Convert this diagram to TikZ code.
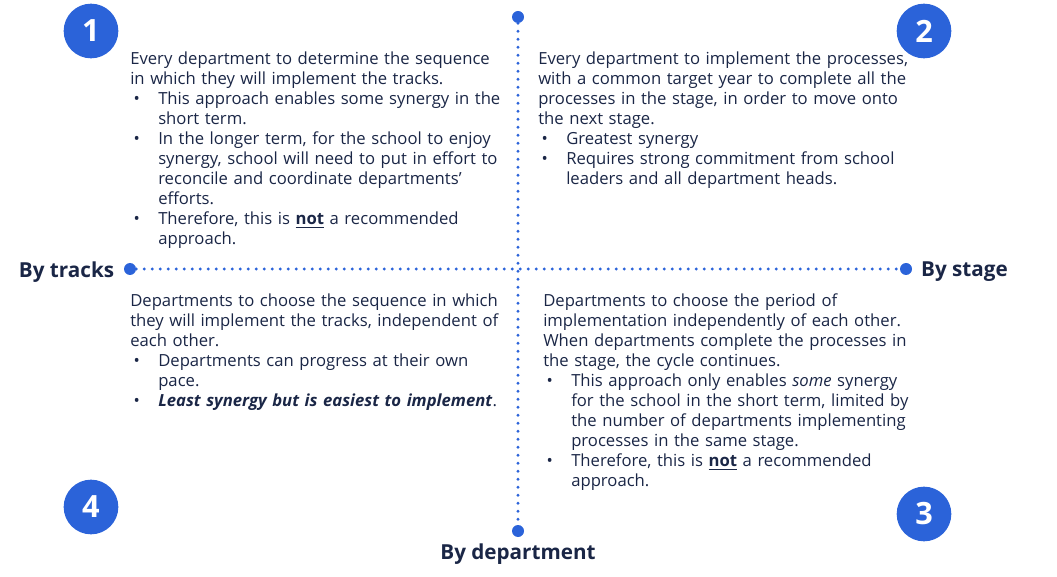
\documentclass[tikz,border=0pt]{standalone}
\usepackage{fontspec}
\setmainfont{Open Sans}
\usetikzlibrary{positioning}
\definecolor{axisblue}{RGB}{43,99,217}
\definecolor{navy}{RGB}{26,38,70}
\newcommand{\bul}{\makebox[21pt][l]{\hspace{2.5pt}\textbullet}}
\newcommand{\ind}{\hspace*{21pt}}
\tikzset{%
    enddot/.style={circle,fill=axisblue,inner sep=0pt,minimum size=9pt},
    axisline/.style={axisblue,line width=2.3pt,line cap=round,dash pattern=on 0pt off 6pt},
    numdot/.style={circle,fill=axisblue,text=white,inner sep=0pt,minimum size=41pt,
        font=\fontsize{23}{26}\selectfont\bfseries},
    axislabel/.style={text=navy,inner sep=0pt,font=\fontsize{15.5}{18}\selectfont\bfseries},
    quadtext/.style={text=navy,inner sep=0pt,anchor=base west,text width=340pt,align=left,
        font=\fontsize{12.5}{15}\selectfont}
}

\begin{document}
\begin{tikzpicture}[x=0.75pt,y=-0.75pt]
\useasboundingbox (0,0) rectangle (1057,577);

% axes
\node[enddot] (tdot) at (518,17) {};
\node[enddot] (bdot) at (518,531) {};
\node[enddot] (ldot) at (130,269) {};
\node[enddot] (rdot) at (906,269) {};
\draw[axisline] (tdot) -- (bdot);
\draw[axisline] (ldot) -- (rdot);

\node[axislabel,left=7pt of ldot,yshift=-2pt] (tracks) {By tracks};
\node[axislabel,right=6.5pt of rdot,yshift=-2pt] (stage) {By stage};
\node[axislabel,below=4.5pt of bdot] (dept) {By department};

% numbers
\node[numdot] (n1) at (91,31) {1};
\node[numdot] (n2) at (924,31) {2};
\node[numdot] (n3) at (924,514) {3};
\node[numdot] (n4) at (91,507) {4};

% quadrant texts
\node[quadtext] (q1) at (130,65) {Every department to determine the sequence\\
in which they will implement the tracks.\\
\bul This approach enables some synergy in the\\
\ind short term.\\
\bul In the longer term, for the school to enjoy\\
\ind synergy, school will need to put in effort to\\
\ind reconcile and coordinate departments’\\
\ind efforts.\\
\bul Therefore, this is \textbf{\underline{not}} a recommended\\
\ind approach.};

\node[quadtext] (q2) at (538,65) {Every department to implement the processes,\\
with a common target year to complete all the\\
processes in the stage, in order to move onto\\
the next stage.\\
\bul Greatest synergy\\
\bul Requires strong commitment from school\\
\ind leaders and all department heads.};

\node[quadtext] (q3) at (543,307) {Departments to choose the period of\\
implementation independently of each other.\\
When departments complete the processes in\\
the stage, the cycle continues.\\
\bul This approach only enables \textit{some} synergy\\
\ind for the school in the short term, limited by\\
\ind the number of departments implementing\\
\ind processes in the same stage.\\
\bul Therefore, this is \textbf{\underline{not}} a recommended\\
\ind approach.};

\node[quadtext] (q4) at (130,307) {Departments to choose the sequence in which\\
they will implement the tracks, independent of\\
each other.\\
\bul Departments can progress at their own\\
\ind pace.\\
\bul \textbf{\textit{Least synergy but is easiest to implement}}.};
\end{tikzpicture}
\end{document}
